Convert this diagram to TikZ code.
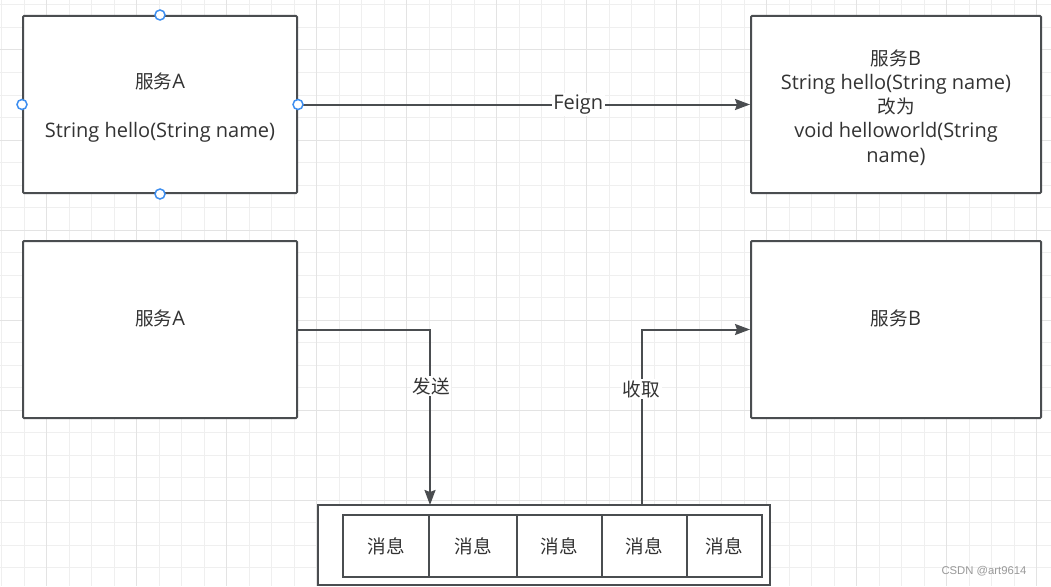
\documentclass[tikz,border=0pt]{standalone}
\usepackage{fontspec}
\setmainfont{Open Sans}
\newfontfamily\cjk[Scale=0.93]{Noto Sans CJK SC}
\newfontfamily\wmfont{Liberation Sans}
\usetikzlibrary{arrows.meta}
\definecolor{edgec}{HTML}{4A4D50}
\definecolor{txtc}{HTML}{333333}
\definecolor{gridminor}{HTML}{EFEFEF}
\definecolor{gridmajor}{HTML}{E3E3E3}
\definecolor{handle}{HTML}{3D8EF0}
\newcommand{\C}[1]{{\cjk #1}}
\tikzset{
  box/.style={draw=edgec, line width=2pt, fill=white, rounded corners=1pt, inner sep=0pt},
  txt/.style={text=txtc, align=center, font=\fontsize{20}{24.2}\selectfont, inner sep=0pt},
  cell/.style={draw=edgec, line width=2pt, fill=white, text=txtc, font=\fontsize{20}{24}\selectfont, inner sep=0pt, minimum height=62pt},
  conn/.style={draw=edgec, line width=2pt},
  arr/.style={conn, -{Stealth[length=15pt,width=11pt,inset=2pt]}},
  lbl/.style={fill=white, text=txtc, inner sep=1.5pt, font=\fontsize{20}{24}\selectfont},
  hdl/.style={draw=handle, fill=white, line width=1.5pt, circle, minimum size=10pt, inner sep=0pt}
}
\begin{document}
\begin{tikzpicture}[x=1pt,y=-1pt]
\useasboundingbox (0,0) rectangle (1051,586);
\fill[white] (0,0) rectangle (1051,586);
% grid
\foreach \x in {1.7,24.2,...,1051} \draw[gridminor, line width=1pt] (\x,0) -- (\x,586);
\foreach \y in {5,27.5,...,586} \draw[gridminor, line width=1pt] (0,\y) -- (1051,\y);
\foreach \x in {46.7,136.7,...,1051} \draw[gridmajor, line width=1pt] (\x,0) -- (\x,586);
\foreach \y in {50,140,...,586} \draw[gridmajor, line width=1pt] (0,\y) -- (1051,\y);

% top row
\node[box, minimum width=274pt, minimum height=177pt] (A1) at (160,104.5) {};
\node[txt] (A1t) at (160,107.5) {\C{服务}A\\[24.2pt]String hello(String name)};
\node[box, minimum width=290pt, minimum height=177pt] (B1) at (896,104.5) {};
\node[txt] (B1t) at (896,107.5) {\C{服务}B\\String hello(String name)\\\C{改为}\\void helloworld(String\\name)};

% bottom row
\node[box, minimum width=274pt, minimum height=177pt] (A2) at (160,329.5) {};
\node[txt] (A2t) at (160,318) {\C{服务}A};
\node[box, minimum width=290pt, minimum height=177pt] (B2) at (896,329.5) {};
\node[txt] (B2t) at (896,318) {\C{服务}B};

% queue
\node[draw=edgec, line width=2pt, fill=white, minimum width=452pt, minimum height=80pt, inner sep=0pt] (Q) at (544,545) {};
\node[cell, minimum width=86.6pt] (m1) at (386,546) {\C{消息}};
\node[cell, minimum width=87.4pt] (m2) at (473,546) {\C{消息}};
\node[cell, minimum width=85pt] (m3) at (559.2,546) {\C{消息}};
\node[cell, minimum width=85pt] (m4) at (644.2,546) {\C{消息}};
\node[cell, minimum width=75pt] (m5) at (724.2,546) {\C{消息}};

% connectors
\draw[arr] (A1.east) -- (B1.west) node[lbl, pos=0.62] {Feign};
\coordinate (qin) at (430,505);
\coordinate (qout) at (641.5,505);
\draw[arr] (A2.east) -| (qin);
\node[lbl] (send) at (431,386) {\C{发送}};
\draw[arr] (qout) |- (B2.west);
\node[lbl] (recv) at (641.5,389) {\C{收取}};

% selection handles
\node[hdl] (h1) at (A1.north) {};
\node[hdl] (h2) at (A1.west) {};
\node[hdl] (h3) at (A1.east) {};
\node[hdl] (h4) at (A1.south) {};

% watermark
\node[text=black!40, font=\wmfont\fontsize{11.3}{13}\selectfont, inner sep=0pt] (wm) at (984,571) {CSDN @art9614};
\end{tikzpicture}
\end{document}
